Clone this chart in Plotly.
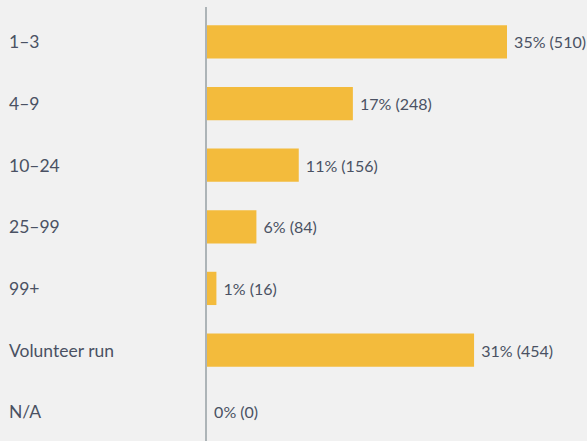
import plotly.graph_objects as go

# Organisation size categories and respondent counts
categories = ["1–3", "4–9", "10–24", "25–99", "99+", "Volunteer run", "N/A"]
counts = [510, 248, 156, 84, 16, 454, 0]

total = sum(counts)
labels = [f" {round(c / total * 100)}% ({c})" for c in counts]

BG = "#f1f1f1"
BAR = "#f3bb3c"
TEXT = "#4a5163"
AXIS = "#adb4b7"
FONT = "Lato, 'Open Sans', sans-serif"

W, H = 587, 441
LEFT = 207

fig = go.Figure(
    go.Bar(
        x=counts,
        y=categories,
        orientation="h",
        marker=dict(color=BAR, line=dict(width=0)),
        width=0.54,
        text=labels,
        textposition="outside",
        textfont=dict(family=FONT, size=16, color=TEXT),
        cliponaxis=False,
        hoverinfo="skip",
    )
)

# Left-aligned category labels in the left gutter
for cat in categories:
    fig.add_annotation(
        x=7 / W, xref="paper", xanchor="left",
        y=cat, yref="y", yanchor="middle",
        text=cat, showarrow=False,
        font=dict(family=FONT, size=17.5, color=TEXT),
    )

fig.update_layout(
    width=W, height=H,
    margin=dict(l=0, r=0, t=0, b=0),
    paper_bgcolor=BG, plot_bgcolor=BG,
    showlegend=False,
    xaxis=dict(
        domain=[LEFT / W, 1],
        range=[0, 646],
        showgrid=False, zeroline=False, showticklabels=False, showline=False,
        fixedrange=True,
    ),
    yaxis=dict(
        categoryorder="array", categoryarray=categories,
        range=[6.477, -0.568],
        showgrid=False, zeroline=False, showticklabels=False,
        showline=True, linecolor=AXIS, linewidth=2,
        ticks="", fixedrange=True,
        domain=[0, 1 - 7 / H],
    ),
)

fig.write_html("out.html")
